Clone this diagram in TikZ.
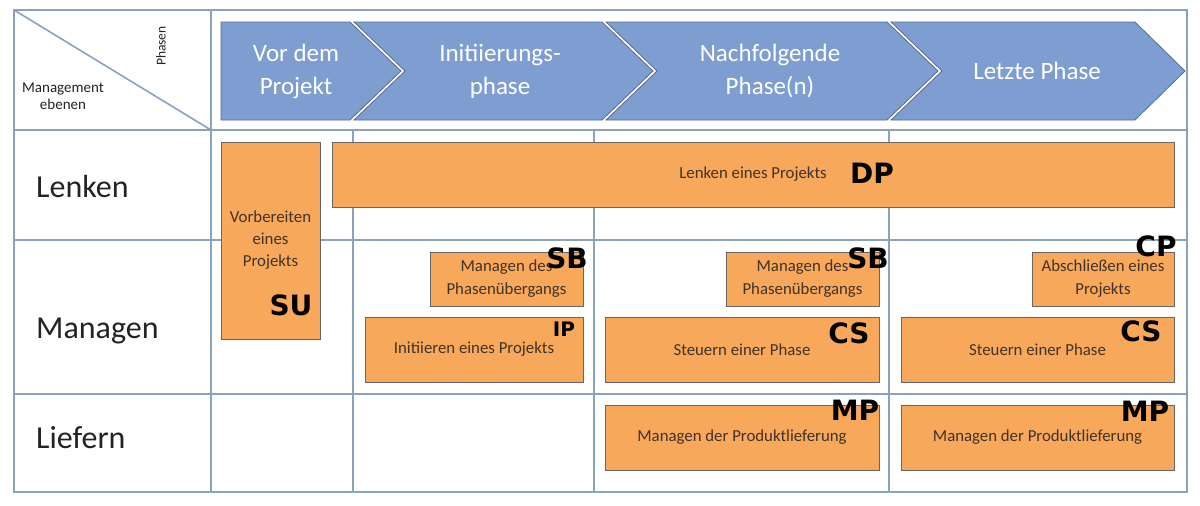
\documentclass[tikz,border=0pt]{standalone}
\usepackage{fontspec}
\setmainfont{Carlito}
\newfontfamily\handfont{DejaVu Sans}
\definecolor{gridc}{RGB}{138,162,188}
\definecolor{chevc}{RGB}{126,158,210}
\definecolor{chevd}{RGB}{88,108,140}
\definecolor{oboxc}{RGB}{247,168,90}
\definecolor{oboxd}{RGB}{105,100,100}
\definecolor{oboxt}{RGB}{65,50,40}
\definecolor{rowc}{RGB}{35,35,35}
\begin{document}
\begin{tikzpicture}[x=1pt,y=-1pt,
  gridline/.style={draw=gridc, line width=1.6pt},
  chev/.style={fill=chevc, draw=chevd, line width=0.8pt, line join=miter},
  chevtext/.style={text=white, font=\fontsize{25}{33}\selectfont, align=center, inner sep=0pt},
  obox/.style={draw=oboxd, fill=oboxc, line width=1pt, inner sep=0pt, align=center, text=oboxt, font=\fontsize{16.8}{23}\selectfont},
  rowlab/.style={anchor=base west, font=\fontsize{32}{36}\selectfont, text=rowc, inner sep=0pt},
  hand/.style={font=\handfont\bfseries\fontsize{28}{28}\selectfont, text=black, inner sep=0pt},
  handsmall/.style={font=\handfont\bfseries\fontsize{20}{20}\selectfont, text=black, inner sep=0pt},
]
\useasboundingbox (0,0) rectangle (1200,506);
\fill[white] (0,0) rectangle (1200,506);

% grid
\draw[gridline] (14,10) rectangle (1187,492);
\draw[gridline] (211,10) -- (211,492);
\draw[gridline] (14,130) -- (1187,130);
\draw[gridline] (14,240) -- (1187,240);
\draw[gridline] (14,394) -- (1187,394);
\draw[gridline] (353,130) -- (353,492);
\draw[gridline] (594,130) -- (594,492);
\draw[gridline] (889,130) -- (889,492);
\draw[gridline] (14,10) -- (211,130);

% header corner texts
\node[rotate=90, font=\fontsize{13.5}{15}\selectfont, text=rowc] (phasen) at (161,46) {Phasen};
\node[align=center, font=\fontsize{15}{17}\selectfont, text=rowc] (mgmt) at (63,96) {Management\\ebenen};

% chevrons
\draw[chev] (221,22) -- (350,22) -- (401,71) -- (350,120) -- (221,120) -- cycle;
\draw[chev] (354,22) -- (602,22) -- (653,71) -- (602,120) -- (354,120) -- (405,71) -- cycle;
\draw[chev] (606,22) -- (887,22) -- (938,71) -- (887,120) -- (606,120) -- (657,71) -- cycle;
\draw[chev] (891,22) -- (1135,22) -- (1185,71) -- (1135,120) -- (891,120) -- (942,71) -- cycle;
\node[chevtext] (ph1) at (296,71) {Vor dem\\Projekt};
\node[chevtext] (ph2) at (500,71) {Initiierungs-\\phase};
\node[chevtext] (ph3) at (770,71) {Nachfolgende\\Phase(n)};
\node[chevtext] (ph4) at (1037,71) {Letzte Phase};

% row labels
\node[rowlab] (lenken) at (36,197) {Lenken};
\node[rowlab] (managen) at (36,338) {Managen};
\node[rowlab] (liefern) at (36,448) {Liefern};

% orange boxes
\node[obox, minimum width=99pt, minimum height=197pt, font=\fontsize{16.8}{22}\selectfont] (su) at (270.5,240.5) {Vorbereiten\\eines\\Projekts};
\node[obox, minimum width=842pt, minimum height=65pt] (dp) at (753,174.5) {Lenken eines Projekts};
\node[obox, minimum width=153pt, minimum height=54pt] (sb1) at (506.5,279) {Managen des\\Phasenübergangs};
\node[obox, minimum width=218pt, minimum height=65pt] (ip) at (474,349.5) {Initiieren eines Projekts};
\node[obox, minimum width=153pt, minimum height=54pt] (sb2) at (802.5,279) {Managen des\\Phasenübergangs};
\node[obox, minimum width=274pt, minimum height=65pt] (cs1) at (742,349.5) {Steuern einer Phase};
\node[obox, minimum width=142pt, minimum height=54pt] (cp) at (1103,279) {Abschließen eines\\Projekts};
\node[obox, minimum width=273pt, minimum height=65pt] (cs2) at (1037.5,349.5) {Steuern einer Phase};
\node[obox, minimum width=274pt, minimum height=65pt] (mp1) at (742,437.5) {Managen der Produktlieferung};
\node[obox, minimum width=273pt, minimum height=65pt] (mp2) at (1037.5,437.5) {Managen der Produktlieferung};

% handwritten annotations
\node[hand] (hdp) at (872,173) {DP};
\node[hand] (hsu) at (291,305) {SU};
\node[hand] (hsb1) at (567,258) {SB};
\node[hand] (hsb2) at (868,258) {SB};
\node[handsmall] (hip) at (564,329) {IP};
\node[hand] (hcs1) at (849,333) {CS};
\node[hand] (hcs2) at (1141,331) {CS};
\node[hand] (hcp) at (1156,246) {CP};
\node[hand] (hmp1) at (855,410) {MP};
\node[hand] (hmp2) at (1145,411) {MP};
\end{tikzpicture}
\end{document}
